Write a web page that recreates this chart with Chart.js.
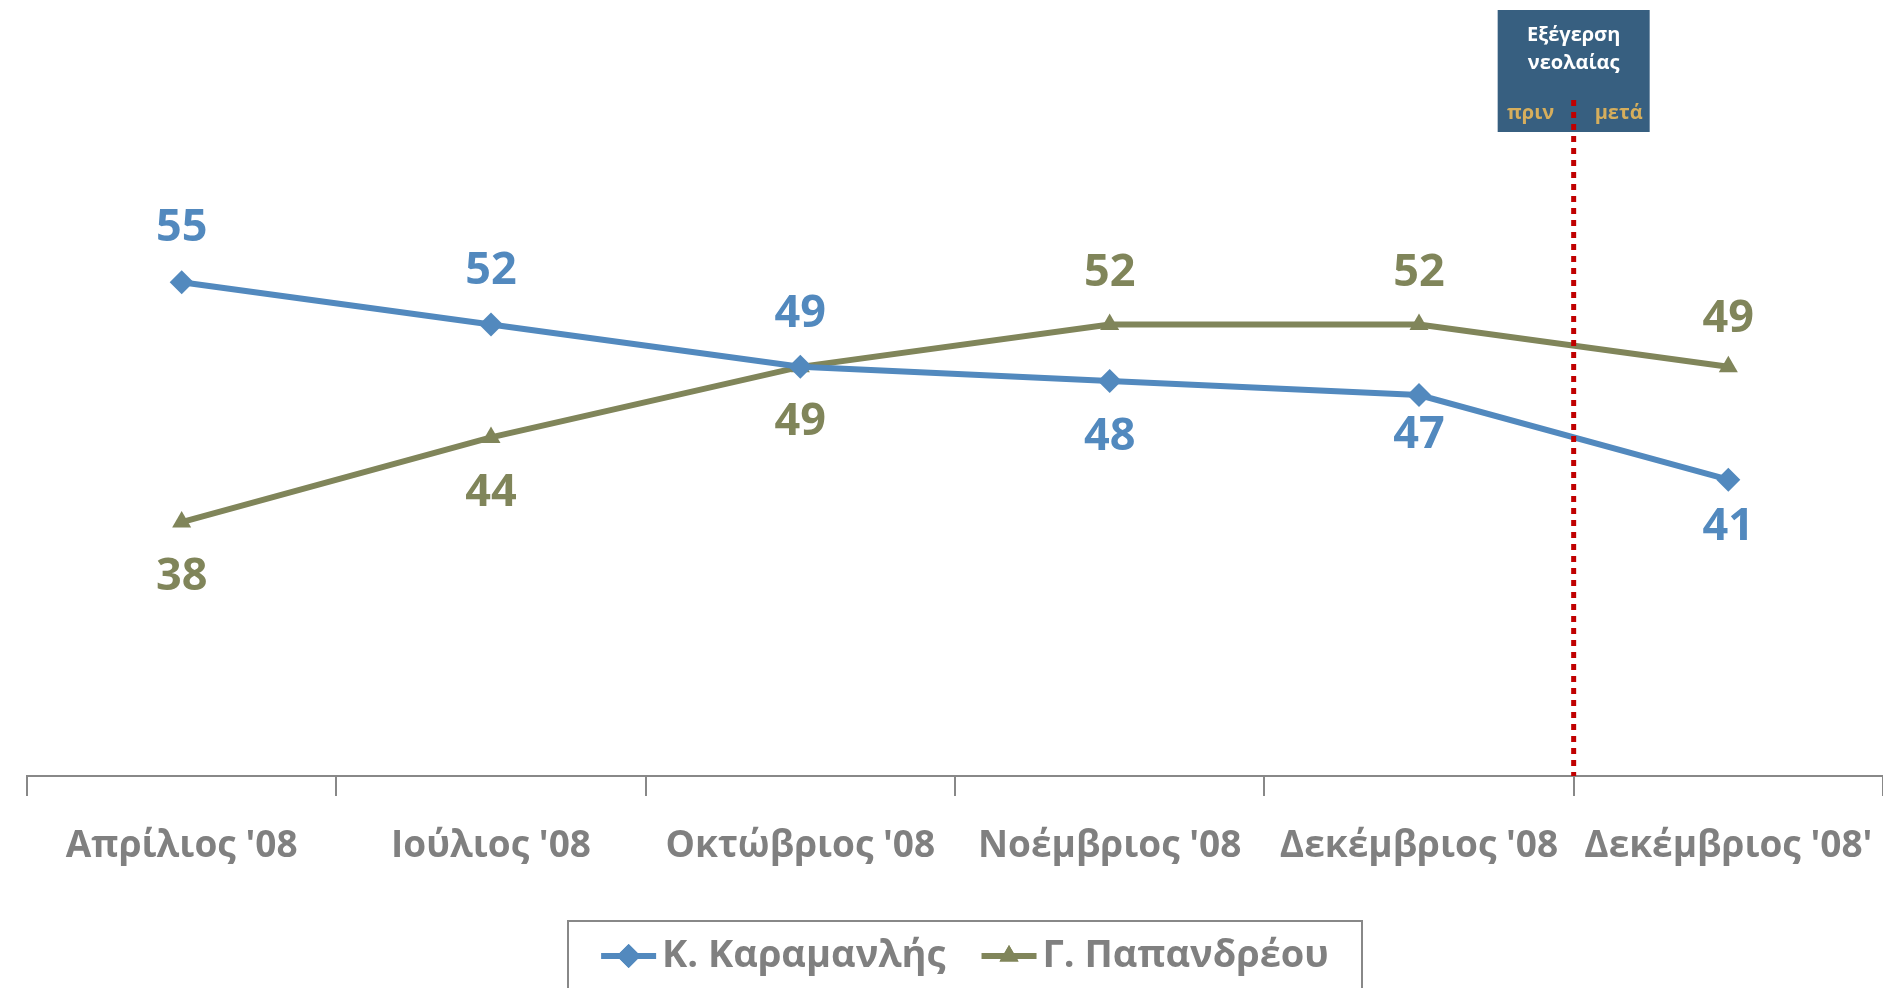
<!DOCTYPE html>
<html>
<head>
<meta charset="utf-8">
<script src="https://cdn.jsdelivr.net/npm/chart.js@4"></script>
<style>
  html, body { margin: 0; padding: 0; background: #fff; }
  #wrap { width: 1883px; height: 988px; }
</style>
</head>
<body>
<div id="wrap"><canvas id="pollChart"></canvas></div>
<script>
// data
const months = ["Απρίλιος '08", "Ιούλιος '08", "Οκτώβριος '08", "Νοέμβριος '08", "Δεκέμβριος '08", "Δεκέμβριος '08'"];
const karamanlis = [55, 52, 49, 48, 47, 41];
const papandreou = [38, 44, 49, 52, 52, 49];
const seriesNames = ['Κ. Καραμανλής', 'Γ. Παπανδρέου'];

// label placement (style only)
const karamanlisSide = [-54, -53, -53, 56, 40, 47];
const papandreouSide = [55, 56, 55, -51, -51, -48];

const BLUE = '#5289BE';
const OLIVE = '#80855A';
const GREY = '#808080';
const FONT = "'Open Sans', 'Noto Sans', sans-serif";

// ========================================
// value labels next to points
// ========================================
const valueLabels = {
    id: 'valueLabels',
    afterDatasetsDraw(chart) {
        const ctx = chart.ctx;
        const sides = [karamanlisSide, papandreouSide];
        ctx.save();
        ctx.font = 'bold 45px ' + FONT;
        ctx.textAlign = 'center';
        ctx.textBaseline = 'middle';
        chart.data.datasets.forEach((ds, i) => {
            const meta = chart.getDatasetMeta(i);
            ctx.fillStyle = ds.borderColor;
            meta.data.forEach((pt, j) => {
                ctx.fillText(String(ds.data[j]), pt.x, pt.y + sides[i][j]);
            });
        });
        ctx.restore();
    }
};

// ========================================
// event marker (red dotted line + box)
// ========================================
const eventMarker = {
    id: 'eventMarker',
    afterDraw(chart) {
        const ctx = chart.ctx;
        const x = chart.scales.x.getPixelForValue(4.5);
        const bottom = chart.chartArea.bottom;

        ctx.save();
        ctx.fillStyle = '#375F80';
        ctx.fillRect(x - 76, 10, 152, 122);

        ctx.strokeStyle = '#C00000';
        ctx.lineWidth = 5;
        ctx.setLineDash([6, 6]);
        ctx.beginPath();
        ctx.moveTo(x, 100);
        ctx.lineTo(x, bottom);
        ctx.stroke();
        ctx.setLineDash([]);

        ctx.textAlign = 'center';
        ctx.textBaseline = 'middle';
        ctx.font = 'bold 20px ' + FONT;
        ctx.fillStyle = '#FFFFFF';
        ctx.fillText('Εξέγερση', x, 35);
        ctx.fillText('νεολαίας', x, 63);
        ctx.fillStyle = '#D6AE5C';
        ctx.fillText('πριν', x - 43, 113);
        ctx.fillText('μετά', x + 45, 113);
        ctx.restore();
    }
};

// ========================================
// boxed legend with line + marker swatches
// ========================================
const boxLegend = {
    id: 'boxLegend',
    afterDraw(chart) {
        const ctx = chart.ctx;
        const cx = 965, cy = 956;
        const lineLen = 55, gap = 6, itemGap = 36;
        ctx.save();
        ctx.font = 'bold 38px ' + FONT;
        const widths = chart.data.datasets.map(ds => lineLen + gap + ctx.measureText(ds.label).width);
        const total = widths.reduce((a, b) => a + b, 0) + itemGap;

        ctx.strokeStyle = '#888888';
        ctx.lineWidth = 2;
        ctx.strokeRect(568, 921, 794, 90);

        let x = cx - total / 2;
        chart.data.datasets.forEach((ds, i) => {
            ctx.strokeStyle = ds.borderColor;
            ctx.lineWidth = 6;
            ctx.beginPath();
            ctx.moveTo(x, cy);
            ctx.lineTo(x + lineLen, cy);
            ctx.stroke();
            ctx.fillStyle = ds.borderColor;
            ctx.beginPath();
            Chart.helpers.drawPoint(ctx, {
                pointStyle: ds.pointStyle,
                radius: ds.pointRadius,
                borderWidth: 0,
                rotation: 0
            }, x + lineLen / 2, cy);
            ctx.fill();

            ctx.fillStyle = GREY;
            ctx.textAlign = 'left';
            ctx.textBaseline = 'middle';
            ctx.fillText(ds.label, x + lineLen + gap, cy);
            x += widths[i] + itemGap;
        });
        ctx.restore();
    }
};

new Chart(document.getElementById('pollChart'), {
    type: 'line',
    data: {
        labels: months,
        datasets: [
            {
                label: seriesNames[0],
                data: karamanlis,
                borderColor: BLUE,
                backgroundColor: BLUE,
                borderWidth: 6,
                pointStyle: 'rectRot',
                pointRadius: 12,
                pointBorderWidth: 0,
                tension: 0
            },
            {
                label: seriesNames[1],
                data: papandreou,
                borderColor: OLIVE,
                backgroundColor: OLIVE,
                borderWidth: 6,
                pointStyle: 'triangle',
                pointRadius: 11,
                pointBorderWidth: 0,
                tension: 0
            }
        ]
    },
    options: {
        responsive: true,
        maintainAspectRatio: false,
        animation: false,
        layout: { autoPadding: false, padding: { left: 27, right: 0, top: 0, bottom: 0 } },
        plugins: {
            legend: { display: false },
            tooltip: { enabled: false }
        },
        scales: {
            y: {
                display: false,
                min: 20,
                max: 75
            },
            x: {
                offset: true,
                afterFit(scale) {
                    scale.height = 212;
                    scale.paddingLeft = 0;
                    scale.paddingRight = 0;
                },
                border: { display: true, color: '#888888', width: 2 },
                grid: {
                    offset: true,
                    drawOnChartArea: false,
                    drawTicks: true,
                    tickLength: 20,
                    color: '#888888',
                    lineWidth: 2
                },
                ticks: {
                    color: GREY,
                    padding: 28,
                    maxRotation: 0,
                    autoSkip: false,
                    font: { family: FONT, weight: 'bold', size: 37 }
                }
            }
        }
    },
    plugins: [valueLabels, eventMarker, boxLegend]
});
</script>
</body>
</html>
